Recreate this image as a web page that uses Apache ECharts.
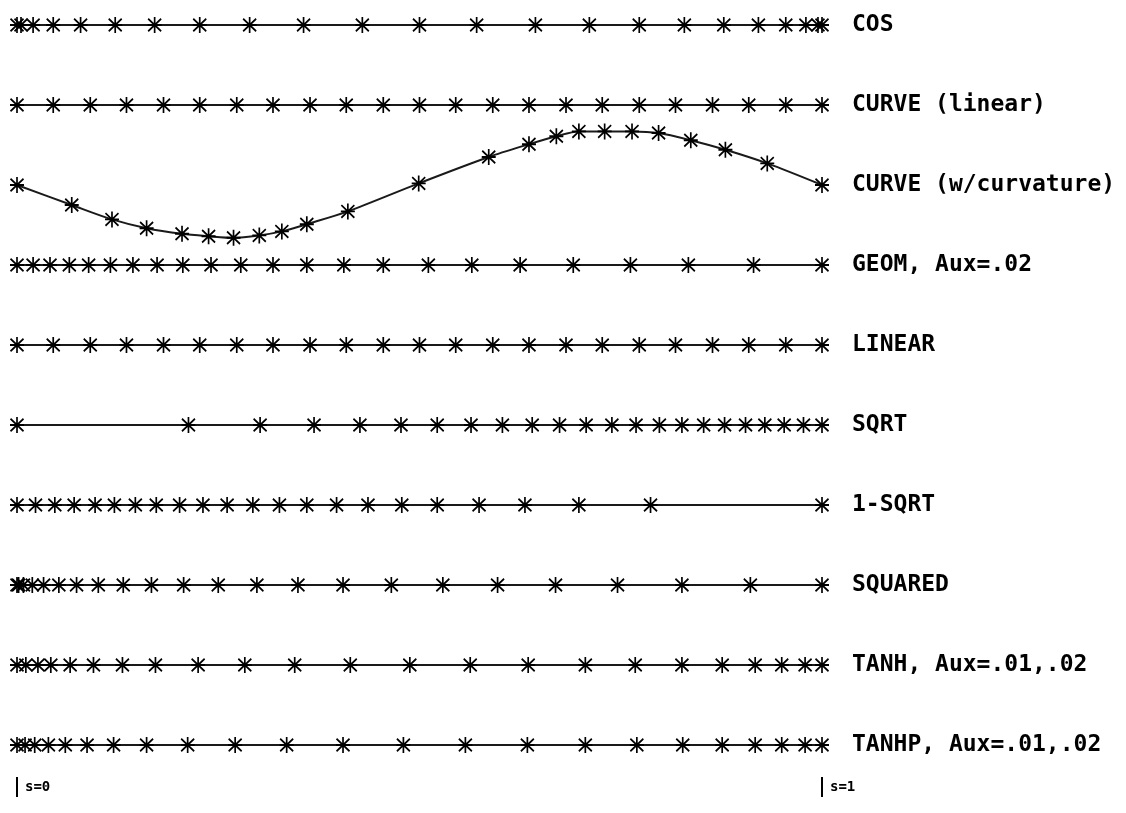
<!DOCTYPE html>
<html>
<head>
<meta charset="utf-8">
<script src="https://cdn.jsdelivr.net/npm/echarts@6/dist/echarts.min.js"></script>
<style>
  html, body { margin: 0; padding: 0; background: #fff; }
  #chart { width: 1126px; height: 813px; }
</style>
</head>
<body>
<div id="chart"></div>
<script>
// Grid-point distributions along s in [0, 1], one row per stretching option.
const rowNames = [
  'COS',
  'CURVE (linear)',
  'CURVE (w/curvature)',
  'GEOM, Aux=.02',
  'LINEAR',
  'SQRT',
  '1-SQRT',
  'SQUARED',
  'TANH, Aux=.01,.02',
  'TANHP, Aux=.01,.02'
];

const sCos = [0, .005, .02, .045, .079, .122, .171, .227, .289, .356, .429, .5,
  .571, .644, .711, .773, .829, .878, .921, .955, .98, .995, 1];
const sCurveLinear = [0, .045, .091, .136, .182, .227, .273, .318, .364, .409, .455, .5,
  .545, .591, .636, .682, .727, .773, .818, .864, .909, .955, 1];
const sCurvature = [0, .068, .118, .161, .205, .238, .269, .301, .329, .360, .411, .499,
  .586, .636, .670, .698, .730, .764, .797, .837, .880, .932, 1];
// vertical displacement of the curved row, in row spacings (down is positive)
const hCurvature = [0, .25, .43, .54, .61, .64, .66, .63, .58, .49, .33, -.02,
  -.35, -.51, -.61, -.67, -.67, -.67, -.65, -.56, -.44, -.27, 0];
const sGeom = [0, .02, .041, .065, .089, .116, .144, .174, .206, .241, .278, .318,
  .360, .406, .455, .511, .565, .625, .691, .762, .834, .915, 1];
const sLinear = [0, .045, .091, .136, .182, .227, .273, .318, .364, .409, .455, .5,
  .545, .591, .636, .682, .727, .773, .818, .864, .909, .955, 1];
const sSqrt = [0, .213, .302, .369, .426, .477, .522, .564, .603, .640, .674, .707,
  .739, .769, .798, .826, .853, .879, .905, .929, .953, .977, 1];
const sOneMinusSqrt = [0, .023, .047, .071, .097, .121, .147, .173, .202, .231, .261, .293,
  .326, .360, .397, .436, .478, .522, .574, .631, .698, .787, 1];
const sSquared = [0, .002, .008, .019, .033, .052, .074, .101, .132, .167, .207, .25,
  .298, .349, .405, .465, .529, .597, .669, .746, .826, .911, 1];
const sTanh = [0, .011, .026, .042, .066, .095, .131, .172, .225, .283, .345, .414,
  .488, .563, .635, .706, .768, .826, .876, .917, .950, .979, 1];
const sTanhp = [0, .01, .022, .039, .06, .087, .12, .161, .212, .271, .335, .405,
  .48, .557, .634, .706, .77, .827, .876, .917, .95, .979, 1];

const sTickLabels = ['s=0', 's=1'];

const rowS = [sCos, sCurveLinear, sCurvature, sGeom, sLinear, sSqrt, sOneMinusSqrt,
  sSquared, sTanh, sTanhp];

// asterisk: vertical stroke, two diagonals and a short horizontal bar, stroked only
const starSymbol = 'path://M7,0L7,14M0.5,1.5L13.5,12.5M0.5,12.5L13.5,1.5M0,7L14,7';

const series = rowS.map(function (s, row) {
  const data = s.map(function (v, i) {
    const y = row === 2 ? row + hCurvature[i] : row;
    return [v, y];
  });
  return {
    name: rowNames[row],
    type: 'line',
    smooth: row === 2 ? 0.3 : false,
    data: data,
    symbol: starSymbol,
    symbolSize: [14, 16],
    showAllSymbol: true,
    lineStyle: { color: '#1a1a1a', width: 2 },
    itemStyle: { color: 'none', borderColor: '#000', borderWidth: 1.8 },
    emphasis: { disabled: true },
    endLabel: {
      show: true,
      formatter: '{a}',
      distance: 30,
      color: '#000',
      fontFamily: 'DejaVu Sans Mono',
      fontWeight: 'bold',
      fontSize: 23
    },
    animation: false
  };
});

const chart = echarts.init(document.getElementById('chart'), null, { renderer: 'canvas' });
chart.setOption({
  backgroundColor: '#fff',
  animation: false,
  grid: { left: 17, right: 304, top: 25, bottom: 68, containLabel: false },
  xAxis: {
    type: 'value',
    position: 'bottom',
    min: 0,
    max: 1,
    interval: 1,
    offset: 32,
    axisLine: { show: false, onZero: false },
    splitLine: { show: false },
    axisTick: { show: true, length: 20, inside: false, lineStyle: { color: '#000', width: 2 } },
    axisLabel: {
      show: true,
      margin: 3,
      align: 'left',
      verticalAlign: 'top',
      padding: [0, 0, 0, 8],
      color: '#000',
      fontFamily: 'DejaVu Sans Mono',
      fontWeight: 'bold',
      fontSize: 14,
      formatter: function (v) { return sTickLabels[v === 0 ? 0 : 1]; }
    }
  },
  yAxis: {
    type: 'value',
    min: 0,
    max: 9,
    inverse: true,
    show: false
  },
  series: series
});
</script>
</body>
</html>
